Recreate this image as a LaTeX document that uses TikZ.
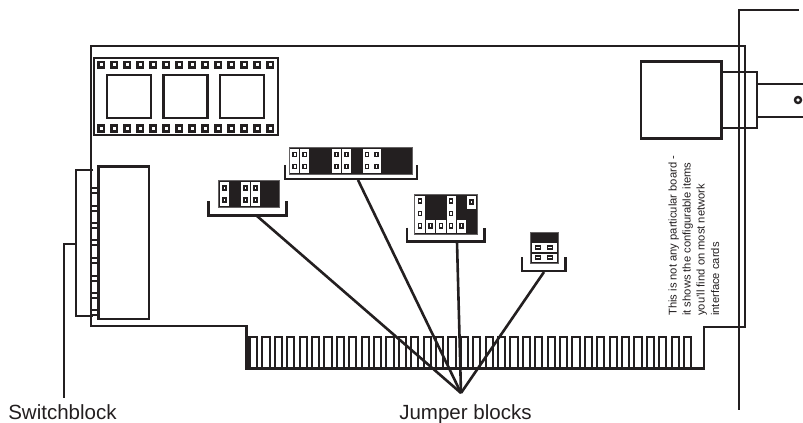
\documentclass[tikz,border=0pt]{standalone}
\usepackage{fontspec}
\setmainfont{Liberation Sans}
\definecolor{ink}{HTML}{231F20}
\tikzset{
  ln/.style={draw=ink,line width=1.95pt,line join=miter,line cap=butt},
  thin ln/.style={draw=ink,line width=1.6pt},
  fin/.style={draw=ink,line width=1.5pt},
  blk/.style={fill=ink,draw=ink!70,line width=.4pt},
  wht/.style={fill=white,draw=none},
  pin/.style={fill=white,draw=ink,line width=1.3pt},
  lab/.style={inner sep=0pt,font=\fontsize{15.4pt}{17pt}\selectfont,text=ink,anchor=base west},
  note/.style={inner sep=0pt,font=\fontsize{8.4pt}{10pt}\selectfont,text=ink,anchor=base west,rotate=90}
}
\newcommand{\pinat}[2]{\draw[pin] (#1-1.6,#2-2.1) rectangle (#1+1.6,#2+2.1);}
\newcommand{\hpinat}[2]{\draw[pin] (#1-2.4,#2-1.4) rectangle (#1+2.4,#2+1.4);}
\begin{document}
\begin{tikzpicture}[x=0.75pt,y=-0.75pt]
\useasboundingbox (0,0) rectangle (803,422);
% backplate bracket
\draw[ln] (799,10) -- (739,10) -- (739,410);
% board outline
\draw[ln] (91,327) -- (91,46) -- (745,46) -- (745,327) -- (704,327) -- (704,368.5) -- (246.5,368.5) -- (246.5,326) -- (91,326);
% edge connector fingers
\fill[ink] (246,336) rectangle (249,369);
\foreach \i in {0,...,35}{
  \draw[fin] ({250+\i*12.4},368.5) -- ({250+\i*12.4},336.7) -- ({257.2+\i*12.4},336.7) -- ({257.2+\i*12.4},368.5);
}
% BNC connector
\draw[ln] (641,61.5) rectangle (721.5,138.5);
\draw[ln] (721.5,72) -- (757,72) -- (757,128) -- (721.5,128);
\draw[ln] (757,84) -- (803,84);
\draw[ln] (757,117) -- (803,117);
\draw[draw=ink,line width=1.8pt,fill=white] (798,100) circle (3);
% memory chip
\draw[ln] (94,58) rectangle (278,135);
\foreach \i in {0,...,13}{
  \fill[ink] ({96.8+\i*13},60.5) rectangle ++(8.6,8.6);
  \fill[white] ({99.6+\i*13},63.3) rectangle ++(3,3);
  \fill[ink] ({96.8+\i*13},124) rectangle ++(8.6,8.6);
  \fill[white] ({99.6+\i*13},126.8) rectangle ++(3,3);
}
\foreach \a in {107,163.5,220}{
  \draw[ln] (\a,75) rectangle ++(44,43);
}
% jumper block 2 (top)
\fill[blk] (289,147) rectangle (412,174);
\foreach \a in {290.3,300.3,332,342,362.5,372}{
  \fill[wht] (\a,148.5) rectangle ++(9,24);
  \pinat{\a+4.5}{154.5}
  \pinat{\a+4.5}{166.5}
}
\draw[ln] (285,165) -- (285,179) -- (417,179) -- (417,165);
% jumper block 1 (left)
\fill[blk] (218,180) rectangle (279,207);
\foreach \a in {220,241,251}{
  \fill[wht] (\a,181.5) rectangle ++(9,24);
  \pinat{\a+4.5}{188}
  \pinat{\a+4.5}{200}
}
\draw[ln] (208.5,201) -- (208.5,215.5) -- (286.5,215.5) -- (286.5,201);
% jumper block 3
\fill[blk] (414,194) rectangle (477,234);
\fill[wht] (415.3,196) rectangle ++(9.5,37);
\fill[wht] (446.7,196) rectangle ++(9.3,37);
\fill[wht] (426,220) rectangle ++(9.3,13);
\fill[wht] (436.3,220) rectangle ++(9.3,13);
\fill[wht] (456.9,220) rectangle ++(9.3,13);
\fill[wht] (467,196) rectangle ++(9.3,12.5);
\foreach \a in {420,451}{\pinat{\a}{201}\pinat{\a}{213.5}}
\foreach \a in {420,430.5,441,451,461.5}{\pinat{\a}{225.7}}
\pinat{471.5}{202}
\draw[ln] (407,227.5) -- (407,241.5) -- (484.5,241.5) -- (484.5,227.5);
% jumper block 4
\fill[blk] (530,232) rectangle (558,263);
\fill[wht] (531.5,243.3) rectangle (556.5,252);
\fill[wht] (531.5,253.5) rectangle (556.5,262);
\foreach \a in {538,550}{\hpinat{\a}{247.7}\hpinat{\a}{257.7}}
\draw[ln] (522,257) -- (522,271) -- (565.5,271) -- (565.5,257);
% switch block
\draw[ln] (98.5,166.5) rectangle (149,319);
\draw[thin ln] (91,172) -- (91,316) (98.3,172) -- (98.3,316);
\foreach \b in {187,204.5,222,239,257,274.5,292,309}{
  \fill[ink] (91,\b) rectangle (98.3,\b+2);
  \fill[ink] (91,\b+5) rectangle (98.3,\b+7);
}
\draw[ln] (93,170) -- (76,170) -- (76,316) -- (93,316);
% labels
\node[lab] (sw) at (8,419.5) {Switchblock};
\node[lab] (jb) at (399,419.5) {Jumper blocks};
\coordinate (swlead) at (76,244);
\coordinate (swend) at (64,398);
\draw[ln] (swlead) -- (64,244) -- (swend);
% jumper leads
\coordinate (hub) at (461,393);
\coordinate (j1) at (257,216);
\coordinate (j2) at (358,180);
\coordinate (j3) at (457,242);
\coordinate (j4) at (544,272);
\foreach \j in {j1,j2,j3,j4}{\draw[ln,line join=round] (\j) -- (hub);}
% note
\node[note] (n1) at (676.5,316) {This is not any particular board -};
\node[note] (n2) at (690.5,316) {it shows the configurable items};
\node[note] (n3) at (704.5,316) {you'll find on most network};
\node[note] (n4) at (719,316) {interface cards};
\end{tikzpicture}
\end{document}
